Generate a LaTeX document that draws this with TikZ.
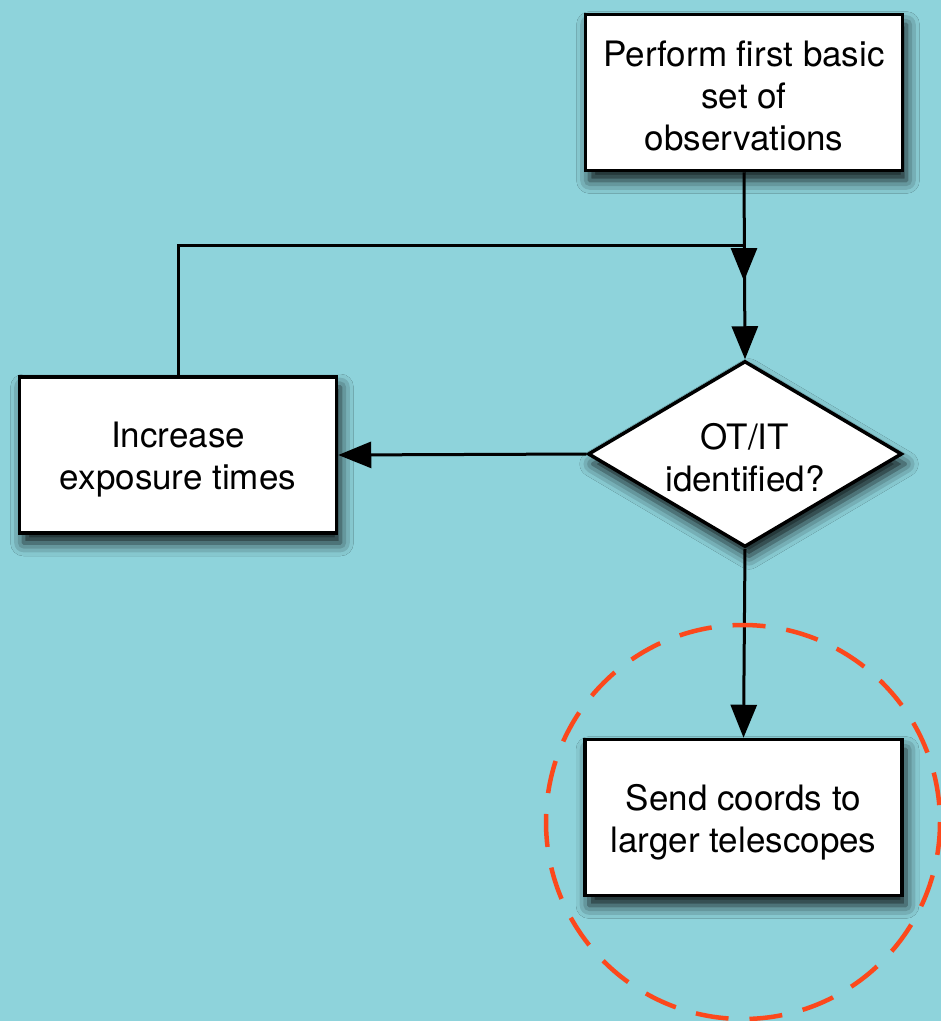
\documentclass[tikz,border=0pt]{standalone}
\usepackage{fontspec}
\setmainfont{TeX Gyre Heros}
\usetikzlibrary{shapes.geometric,arrows.meta,shadows.blur}
\definecolor{bgcol}{RGB}{142,211,219}
\definecolor{hlcol}{RGB}{252,72,28}
\begin{document}
\begin{tikzpicture}[x=1pt,y=-1pt,
  txt/.style={align=center, font=\fontsize{35pt}{42pt}\selectfont},
  shad/.style={blur shadow={shadow xshift=4pt, shadow yshift=-10pt, shadow blur radius=13pt, shadow opacity=90}},
  stepbox/.style={shad, draw=black, line width=3.5pt, fill=white, minimum width=317pt, minimum height=156pt, inner sep=0pt},
  decide/.style={shad, diamond, draw=black, line width=3.5pt, fill=white, minimum width=314pt, minimum height=186pt, inner sep=0pt},
  conn/.style={draw=black, line width=3pt},
  arr/.style={-{Triangle[length=33pt,width=26pt]}},
  highlight/.style={draw=hlcol, line width=4.5pt, dash pattern=on 33pt off 21pt}
]
\fill[bgcol] (0,0) rectangle (941,1021);
\useasboundingbox (0,0) rectangle (941,1021);

\node[stepbox, label={[txt, yshift=-3pt]center:Perform first basic\\set of\\observations}] (perf) at (744,92.5) {};
\node[decide, label={[txt, yshift=-4pt]center:OT/IT\\identified?}] (dia) at (745,454) {};
\node[stepbox, label={[txt, yshift=-5pt]center:Increase\\exposure times}] (inc) at (178,455) {};
\node[stepbox, label={[txt, yshift=-5pt]center:Send coords to\\larger telescopes}] (send) at (743.5,817.5) {};

\coordinate (j) at (744,245);
\coordinate (m) at (744,281);

\draw[conn,arr] (perf.south) -- (dia.north);
\draw[conn,arr] (inc.north) |- (j) -- (m);
\draw[conn,arr] (dia.west) -- (inc.east);
\draw[conn,arr] (dia.south) -- (send.north);

\draw[highlight] (743,822) circle (197);
\end{tikzpicture}
\end{document}
